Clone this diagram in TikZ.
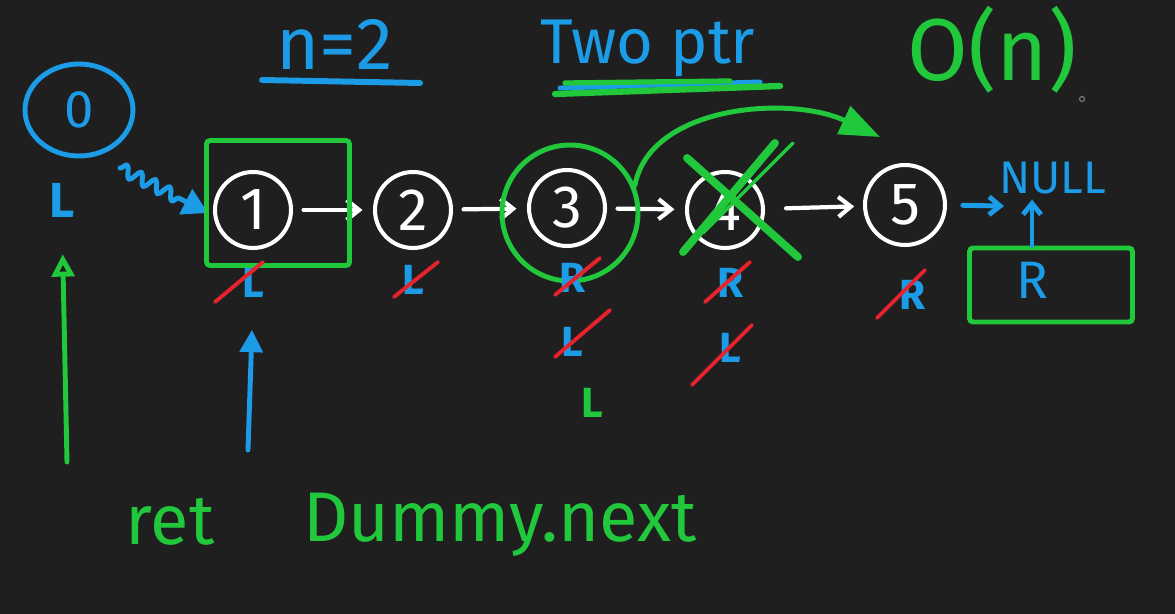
\documentclass[tikz,border=0pt]{standalone}
\usepackage{fontspec}
\setmainfont{Fira Sans}
\usetikzlibrary{arrows.meta,shapes.geometric,decorations.pathmorphing}
\definecolor{bg}{RGB}{31,31,31}
\definecolor{pblue}{RGB}{28,155,230}
\definecolor{pgreen}{RGB}{34,200,60}
\definecolor{pred}{RGB}{230,35,45}
\begin{document}
\begin{tikzpicture}[x=0.02cm,y=-0.02cm,
  pen/.style={line width=2.8pt,line cap=round,line join=round},
  bpen/.style={pen,draw=pblue},
  gpen/.style={pen,draw=pgreen},
  wpen/.style={pen,draw=white,line width=2.4pt},
  lnode/.style={circle,draw=white,line width=2.3pt,minimum size=1.52cm,inner sep=0pt,text=white,font=\fontsize{34pt}{34pt}\selectfont},
  lab/.style={text=pblue,inner sep=1pt,font=\bfseries\fontsize{24pt}{24pt}\selectfont},
  strike/.style={draw=pred,line width=2.2pt,line cap=round},
  gbox/.style={draw=pgreen,line width=2.8pt,rounded corners=2pt,inner sep=0pt},
  big/.style={font=\fontsize{42pt}{42pt}\selectfont},
  warrow/.style={wpen,-{Straight Barb[length=0.25cm,width=0.4cm]},shorten <=6pt,shorten >=6pt},
  barrow/.style={bpen,-{Straight Barb[length=0.22cm,width=0.36cm]}}
]
\fill[bg] (0,0) rectangle (1175,614);
\useasboundingbox (0,0) rectangle (1175,614);

% titles
\node[big,text=pblue] (tn) at (335,44) {n=2};
\draw[bpen,line width=3.4pt] (262,80) -- (420,83);
\node[text=pblue,font=\fontsize{36pt}{36pt}\selectfont] (tp) at (648,48) {Two ptr};
\draw[bpen] (560,88) -- (760,82);
\draw[gpen,line width=3.6pt] (555,94) -- (780,86);
\draw[gpen,line width=3pt] (565,83) -- (730,81);
\node[text=pgreen,font=\fontsize{50pt}{50pt}\selectfont] (on) at (992,50) {O(n)};
\node[circle,draw=gray,line width=0.6pt,minimum size=0.1cm,inner sep=0pt] (cur) at (1082,99) {};

% dummy node
\node[ellipse,draw=pblue,line width=2.8pt,minimum width=2.16cm,minimum height=1.84cm,text=pblue,font=\fontsize{30pt}{30pt}\selectfont] (n0) at (79,110) {0};
\node[lab,font=\bfseries\fontsize{28pt}{28pt}\selectfont] (L0) at (62,200) {L};

% list nodes
\node[lnode] (n1) at (253,210) {1};
\node[lnode] (n2) at (413,210) {2};
\node[lnode] (n3) at (567,208) {3};
\node[lnode] (n4) at (725,210) {4};
\node[lnode,minimum size=1.6cm] (n5) at (905,205) {5};

\draw[warrow] (n1) -- (n2);
\draw[warrow] (n2) -- (n3);
\draw[warrow] (n3) -- (n4);
\draw[warrow,shorten <=12pt,shorten >=5pt] (n4) -- (n5);

% wiggly arrow dummy -> 1
\coordinate (ws) at (120,168);
\coordinate (we) at (208,213);
\draw[bpen,decorate,decoration={snake,amplitude=0.12cm,segment length=0.32cm,post length=0.5cm},-{Triangle[length=0.5cm,width=0.55cm]}] (ws) -- (we);

% green highlights
\node[gbox,minimum width=2.86cm,minimum height=2.5cm] (box1) at (278,203) {};
\node[circle,draw=pgreen,line width=2.8pt,minimum size=2.72cm,inner sep=0pt] (ring3) at (570,213) {};
\draw[gpen,line width=4.5pt] ([shift={(-42,42)}]n4.center) -- ([shift={(50,-67)}]n4.center);
\draw[gpen,line width=4.5pt] ([shift={(-38,-52)}]n4.center) -- ([shift={(73,47)}]n4.center);
\draw[gpen,line width=2pt] ([shift={(-22,23)}]n4.center) -- ([shift={(68,-67)}]n4.center);
\coordinate (skip) at (880,137);
\draw[gpen,-{Triangle[length=0.8cm,width=0.6cm]}] (ring3.23) .. controls (650,105) and (790,95) .. (skip);

% NULL and R
\node[lab,font=\fontsize{26pt}{26pt}\selectfont] (null) at (1053,178) {NULL};
\draw[barrow,shorten <=9pt,shorten >=2pt] (n5.east) -- ([shift={(10,10)}]null.south west);
\node[gbox,minimum width=3.26cm,minimum height=1.48cm] (rbox) at (1051,285) {};
\node[lab,font=\fontsize{30pt}{30pt}\selectfont] (rlab) at (1032,280) {R};
\draw[barrow,shorten >=2pt] (rbox.north -| rlab) -- (null.south -| rlab);

% pointer labels
\node[lab] (l1) at (253,283) {L};
\node[lab] (l2) at (413,280) {L};
\node[lab] (l3) at (572,278) {R};
\node[lab] (l3b) at (572,342) {L};
\node[lab,text=pgreen] (l3c) at (592,403) {L};
\node[lab] (l4) at (730,283) {R};
\node[lab] (l4b) at (730,348) {L};
\node[lab] (l5) at (912,295) {R};

\draw[strike] ([shift={(-38,19)}]l1.center) -- ([shift={(10,-21)}]l1.center);
\draw[strike] ([shift={(-19,17)}]l2.center) -- ([shift={(25,-18)}]l2.center);
\draw[strike] ([shift={(-17,17)}]l3.center) -- ([shift={(28,-20)}]l3.center);
\draw[strike] ([shift={(-17,15)}]l3b.center) -- ([shift={(38,-32)}]l3b.center);
\draw[strike] ([shift={(-25,19)}]l4.center) -- ([shift={(20,-21)}]l4.center);
\draw[strike] ([shift={(-38,37)}]l4b.center) -- ([shift={(22,-23)}]l4b.center);
\draw[strike] ([shift={(-35,23)}]l5.center) -- ([shift={(13,-25)}]l5.center);

% up arrows
\coordinate (bs) at (248,450);
\draw[bpen,-{Triangle[length=0.45cm,width=0.45cm]},shorten >=0.6cm] (bs) -- (l1.south);
\coordinate (gs) at (67,462);
\draw[gpen,-{Triangle[open,length=0.45cm,width=0.45cm]},shorten >=0.7cm] (gs) -- (L0.south);

% bottom text
\node[text=pgreen,font=\fontsize{40pt}{40pt}\selectfont] (ret) at (170,522) {ret};
\node[text=pgreen,font=\fontsize{40pt}{40pt}\selectfont] (dn) at (500,525) {Dummy.next};
\end{tikzpicture}
\end{document}
